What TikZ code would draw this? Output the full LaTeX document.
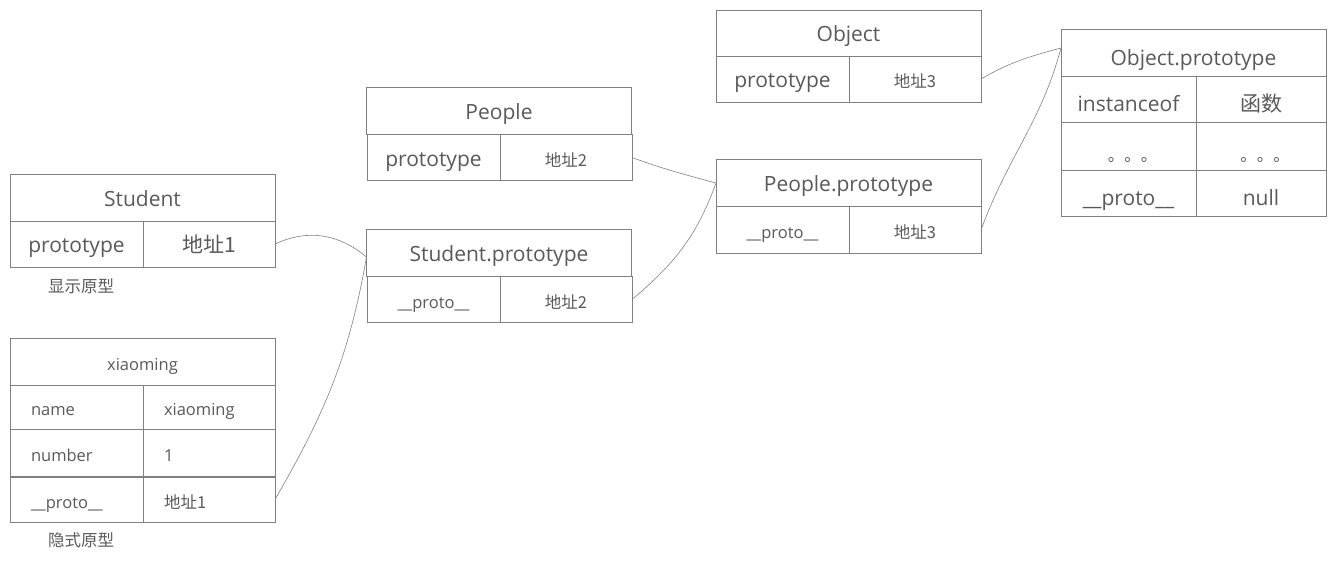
\documentclass[tikz,border=0pt]{standalone}
\usepackage{fontspec}
\setmainfont{Open Sans}
\newfontfamily\cjk{Noto Sans CJK SC}
\usepackage{tikz}

\definecolor{txtgray}{HTML}{595959}
\definecolor{linegray}{HTML}{808080}

\begin{document}
\begin{tikzpicture}[x=1pt,y=-1pt,
  cell/.style={draw=linegray,line width=0.8pt,text=txtgray,inner sep=0pt,outer sep=0pt},
  big/.style={font=\fontsize{21}{24}\selectfont,text height=21pt,text depth=3.8pt},
  small/.style={font=\fontsize{16.5}{19}\selectfont,text height=18.5pt,text depth=1pt},
  lower/.style={text height=28pt},
  wh/.style 2 args={minimum width=#1pt,minimum height=#2pt},
  lcell/.style={cell,small,align=left,inner xsep=21pt,text width=#1pt},
  note/.style={text=txtgray,font=\fontsize{16.5}{19}\selectfont,inner sep=0pt},
  link/.style={draw=linegray,line width=0.6pt}]
\useasboundingbox (0,0) rectangle (1339,560);

% Student
\node[cell,big,wh={265}{47}] (stu) at (142.5,197.5) {Student};
\node[cell,big,wh={133}{46}] (stuk) at (76.5,244) {prototype};
\node[cell,big,wh={132}{46}] (stuv) at (209,244) {\cjk 地址1};
\node[note] (stulab) at (81,286) {\cjk 显示原型};

% xiaoming
\node[cell,small,wh={265}{47}] (xm) at (142.5,361.5) {xiaoming};
\node[lcell=91,minimum height=44pt] (xmk1) at (76.5,407) {name};
\node[lcell=90,minimum height=44pt] (xmv1) at (209,407) {xiaoming};
\node[lcell=91,minimum height=48pt] (xmk2) at (76.5,453) {number};
\node[lcell=90,minimum height=48pt] (xmv2) at (209,453) {1};
\node[lcell=91,minimum height=46pt] (xmk3) at (76.5,499.5) {\_\_proto\_\_};
\node[lcell=90,minimum height=46pt] (xmv3) at (209,499.5) {\cjk 地址1};
\node[note] (xmlab) at (81,540) {\cjk 隐式原型};

% People
\node[cell,big,wh={265}{47}] (ppl) at (499,111) {People};
\node[cell,big,wh={133}{46}] (pplk) at (433.5,157.5) {prototype};
\node[cell,small,wh={132}{46}] (pplv) at (566,157.5) {\cjk 地址2};

% Student.prototype
\node[cell,big,wh={265}{47}] (spt) at (499,253) {Student.prototype};
\node[cell,small,wh={133}{46}] (sptk) at (433.5,299.5) {\_\_proto\_\_};
\node[cell,small,wh={132}{46}] (sptv) at (566,299.5) {\cjk 地址2};

% Object
\node[cell,big,wh={265}{46}] (obj) at (848.5,33) {Object};
\node[cell,big,wh={133}{46}] (objk) at (782.5,79) {prototype};
\node[cell,small,wh={132}{46}] (objv) at (915,79) {\cjk 地址3};

% People.prototype
\node[cell,big,wh={265}{47}] (ppt) at (848.5,183) {People.prototype};
\node[cell,small,wh={133}{47}] (pptk) at (782.5,230) {\_\_proto\_\_};
\node[cell,small,wh={132}{47}] (pptv) at (915,230) {\cjk 地址3};

% Object.prototype
\node[cell,big,lower,wh={265}{47}] (opt) at (1193.5,53) {Object.prototype};
\node[cell,big,lower,wh={135}{46}] (optk1) at (1128.5,99.5) {instanceof};
\node[cell,big,lower,wh={130}{46}] (optv1) at (1261,99.5) {\cjk 函数};
\node[cell,small,wh={135}{48}] (optk2) at (1128.5,146) {\kern8pt\raisebox{-7pt}{\cjk 。。。}};
\node[cell,small,wh={130}{48}] (optv2) at (1261,146) {\kern8pt\raisebox{-7pt}{\cjk 。。。}};
\node[cell,big,lower,wh={135}{46}] (optk3) at (1128.5,193) {\_\_proto\_\_};
\node[cell,big,lower,wh={130}{46}] (optv3) at (1261,193) {null};

% links
\draw[link] (stuv.east) to[out=25,in=140] ([yshift=-4pt]spt.west);
\draw[link] (xmv3.east) to[out=60,in=-100] ([yshift=-4pt]spt.west);
\draw[link] (pplv.east) to[out=-20,in=165] (ppt.west);
\draw[link] (sptv.east) to[out=40,in=-110] (ppt.west);
\draw[link] (objv.east) to[out=30,in=195] ([yshift=5pt]opt.west);
\draw[link] (pptv.east) to[out=70,in=-105] ([yshift=5pt]opt.west);
\end{tikzpicture}
\end{document}
